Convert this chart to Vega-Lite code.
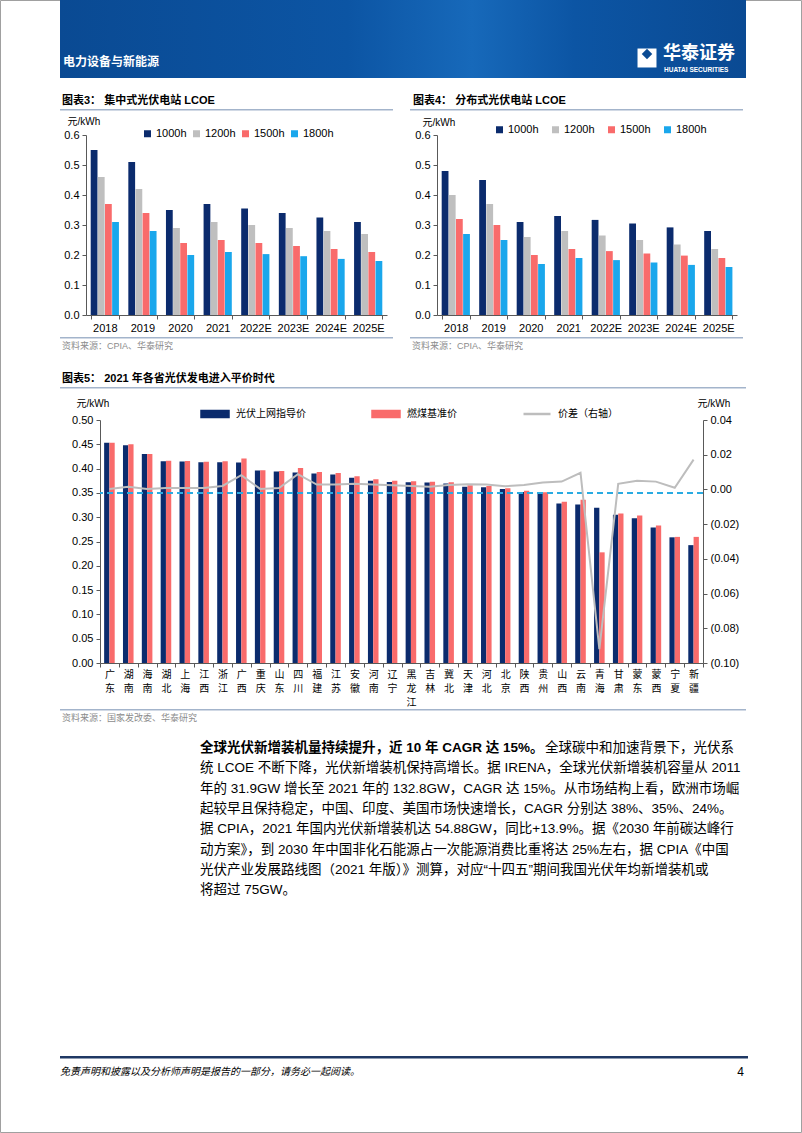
{
  "$schema": "https://vega.github.io/schema/vega-lite/v6.json",
  "padding": {"left": 0, "top": 0, "right": 0, "bottom": 0},
  "background": "#ffffff",
  "bounds": "flush",
  "spacing": 0,
  "resolve": {"scale": {"color": "independent"}, "legend": {"color": "independent"}},
  "config": {
    "font": "Liberation Sans, Noto Sans CJK SC",
    "view": {"stroke": null},
    "axis": {"domainColor": "#595959", "tickColor": "#595959", "labelColor": "#000000", "labelFont": "Liberation Sans, Noto Sans CJK SC", "titleFont": "Liberation Sans, Noto Sans CJK SC", "titleFontWeight": "normal", "titleColor": "#000000", "grid": false, "labelFontSize": 11, "titleFontSize": 10},
    "legend": {"labelFont": "Liberation Sans, Noto Sans CJK SC", "labelColor": "#000000", "labelFontSize": 11, "padding": 0},
    "title": {"font": "Liberation Sans, Noto Sans CJK SC", "color": "#000000"}
  },
  "vconcat": [
    {
      "width": 686, "height": 78,
      "data": {"values": [{}]},
      "layer": [
        {"mark": {"type": "rect", "filled": false, "stroke": "#A0A0A0", "strokeWidth": 1}, "encoding": {"x": {"value": -59.5}, "x2": {"value": 741.5}, "y": {"value": 0.5}, "y2": {"value": 1132.5}}},
        {"mark": {"type": "rect", "color": {"gradient": "linear", "x1": 0, "x2": 1, "y1": 0, "y2": 0, "stops": [{"offset": 0, "color": "#0A4A93"}, {"offset": 0.42, "color": "#0C55A4"}, {"offset": 0.6, "color": "#1769BA"}, {"offset": 0.75, "color": "#0C55A4"}, {"offset": 1, "color": "#0A4A93"}]}}},
        {"mark": {"type": "text", "text": "电力设备与新能源", "align": "left", "baseline": "middle", "color": "#ffffff", "fontSize": 12, "fontWeight": "bold", "font": "Noto Sans CJK SC"}, "encoding": {"x": {"value": 3}, "y": {"value": 62}}},
        {"mark": {"type": "point", "shape": "square", "filled": true, "color": "#ffffff", "size": 360, "opacity": 1}, "encoding": {"x": {"value": 587}, "y": {"value": 58}}},
        {"mark": {"type": "point", "shape": "diamond", "filled": true, "color": "#0A4A93", "size": 110, "opacity": 1}, "encoding": {"x": {"value": 587}, "y": {"value": 54}}},
        {"mark": {"type": "text", "text": "华泰证券", "align": "left", "baseline": "middle", "color": "#ffffff", "fontSize": 18, "fontWeight": "bold", "font": "Noto Sans CJK SC"}, "encoding": {"x": {"value": 603}, "y": {"value": 54}}},
        {"mark": {"type": "text", "text": "HUATAI SECURITIES", "align": "left", "baseline": "middle", "color": "#ffffff", "fontSize": 6.5, "fontWeight": "bold"}, "encoding": {"x": {"value": 604}, "y": {"value": 70}}}
      ]
    },
    {"width": 1, "height": 31, "data": {"values": []}, "mark": "point"},
    {
      "hconcat": [
        {"width": 333, "height": 1.5, "view": {"fill": "#A3B4CB", "stroke": null}, "data": {"values": []}, "mark": "point",
         "title": {"text": "图表3：  集中式光伏电站 LCOE", "orient": "top", "anchor": "start", "offset": 3, "fontSize": 11, "fontWeight": "bold", "dx": 2}},
        {"width": 17, "height": 1.5, "data": {"values": []}, "mark": "point"},
        {"width": 333, "height": 1.5, "view": {"fill": "#A3B4CB", "stroke": null}, "data": {"values": []}, "mark": "point",
         "title": {"text": "图表4：  分布式光伏电站 LCOE", "orient": "top", "anchor": "start", "offset": 3, "fontSize": 11, "fontWeight": "bold", "dx": 3}}
      ],
      "spacing": 0, "bounds": "flush"
    },
    {"width": 1, "height": 26, "data": {"values": []}, "mark": "point"},
    {
      "hconcat": [
        {"width": 26, "height": 180, "data": {"values": []}, "mark": "point"},
        {
          "width": 301, "height": 180,
          "data": {"values": [
            {"年份": "2018", "1000h": 0.55, "1200h": 0.46, "1500h": 0.37, "1800h": 0.31},
            {"年份": "2019", "1000h": 0.51, "1200h": 0.42, "1500h": 0.34, "1800h": 0.28},
            {"年份": "2020", "1000h": 0.35, "1200h": 0.29, "1500h": 0.24, "1800h": 0.20},
            {"年份": "2021", "1000h": 0.37, "1200h": 0.31, "1500h": 0.25, "1800h": 0.21},
            {"年份": "2022E", "1000h": 0.355, "1200h": 0.30, "1500h": 0.24, "1800h": 0.203},
            {"年份": "2023E", "1000h": 0.34, "1200h": 0.29, "1500h": 0.23, "1800h": 0.196},
            {"年份": "2024E", "1000h": 0.325, "1200h": 0.28, "1500h": 0.22, "1800h": 0.187},
            {"年份": "2025E", "1000h": 0.31, "1200h": 0.27, "1500h": 0.21, "1800h": 0.18}
          ]},
          "transform": [{"fold": ["1000h", "1200h", "1500h", "1800h"], "as": ["利用小时", "LCOE"]}],
          "mark": {"type": "bar"},
          "encoding": {
            "x": {"field": "年份", "type": "nominal", "sort": null, "scale": {"paddingInner": 0.25, "paddingOuter": 0.125},
                  "axis": {"title": null, "labelAngle": 0, "tickBand": "extent", "tickSize": 4, "labelPadding": 3}},
            "xOffset": {"field": "利用小时", "type": "nominal", "sort": ["1000h", "1200h", "1500h", "1800h"], "scale": {"paddingInner": 0.05}},
            "y": {"field": "LCOE", "type": "quantitative", "scale": {"domain": [0, 0.6]},
                  "axis": {"values": [0, 0.1, 0.2, 0.3, 0.4, 0.5, 0.6], "format": ".1f", "title": "元/kWh", "titleAngle": 0, "titleAlign": "left", "titleBaseline": "middle", "titleX": -19, "titleY": -14, "tickSize": 4, "labelPadding": 3}},
            "color": {"field": "利用小时", "type": "nominal",
                      "scale": {"domain": ["1000h", "1200h", "1500h", "1800h"], "range": ["#0B2B6D", "#BFBFBF", "#F96B6B", "#1AA7EC"]},
                      "legend": {"title": null, "orient": "none", "legendX": 56, "legendY": -7, "direction": "horizontal", "symbolType": "square", "symbolSize": 49, "symbolStrokeWidth": 0, "columnPadding": 4, "labelOffset": 3}}
          }
        },
        {"width": 50, "height": 180, "data": {"values": []}, "mark": "point"},
        {
          "width": 300, "height": 180,
          "data": {"values": [
            {"年份": "2018", "1000h": 0.48, "1200h": 0.40, "1500h": 0.32, "1800h": 0.27},
            {"年份": "2019", "1000h": 0.45, "1200h": 0.37, "1500h": 0.30, "1800h": 0.25},
            {"年份": "2020", "1000h": 0.31, "1200h": 0.26, "1500h": 0.20, "1800h": 0.17},
            {"年份": "2021", "1000h": 0.33, "1200h": 0.28, "1500h": 0.22, "1800h": 0.19},
            {"年份": "2022E", "1000h": 0.317, "1200h": 0.265, "1500h": 0.213, "1800h": 0.183},
            {"年份": "2023E", "1000h": 0.305, "1200h": 0.25, "1500h": 0.205, "1800h": 0.175},
            {"年份": "2024E", "1000h": 0.292, "1200h": 0.235, "1500h": 0.198, "1800h": 0.167},
            {"年份": "2025E", "1000h": 0.28, "1200h": 0.22, "1500h": 0.19, "1800h": 0.16}
          ]},
          "transform": [{"fold": ["1000h", "1200h", "1500h", "1800h"], "as": ["利用小时", "LCOE"]}],
          "mark": {"type": "bar"},
          "encoding": {
            "x": {"field": "年份", "type": "nominal", "sort": null, "scale": {"paddingInner": 0.25, "paddingOuter": 0.125},
                  "axis": {"title": null, "labelAngle": 0, "tickBand": "extent", "tickSize": 4, "labelPadding": 3}},
            "xOffset": {"field": "利用小时", "type": "nominal", "sort": ["1000h", "1200h", "1500h", "1800h"], "scale": {"paddingInner": 0.05}},
            "y": {"field": "LCOE", "type": "quantitative", "scale": {"domain": [0, 0.6]},
                  "axis": {"values": [0, 0.1, 0.2, 0.3, 0.4, 0.5, 0.6], "format": ".1f", "title": "元/kWh", "titleAngle": 0, "titleAlign": "left", "titleBaseline": "middle", "titleX": -15, "titleY": -13, "tickSize": 4, "labelPadding": 3}},
            "color": {"field": "利用小时", "type": "nominal",
                      "scale": {"domain": ["1000h", "1200h", "1500h", "1800h"], "range": ["#0B2B6D", "#BFBFBF", "#F96B6B", "#1AA7EC"]},
                      "legend": {"title": null, "orient": "none", "legendX": 57, "legendY": -11, "direction": "horizontal", "symbolType": "square", "symbolSize": 49, "symbolStrokeWidth": 0, "columnPadding": 11, "labelOffset": 3}}
          }
        }
      ],
      "spacing": 0, "bounds": "flush",
      "resolve": {"scale": {"color": "independent"}, "legend": {"color": "independent"}}
    },
    {"width": 1, "height": 202, "data": {"values": []}, "mark": "point"},
    {
      "hconcat": [
        {"width": 333, "height": 1.5, "view": {"fill": "#A3B4CB", "stroke": null}, "data": {"values": []}, "mark": "point",
         "title": {"text": "资料来源：CPIA、华泰研究", "orient": "bottom", "anchor": "start", "offset": 3, "fontSize": 9, "fontWeight": "normal", "color": "#8C8C8C", "dx": 2}},
        {"width": 17, "height": 1.5, "data": {"values": []}, "mark": "point"},
        {"width": 333, "height": 1.5, "view": {"fill": "#A3B4CB", "stroke": null}, "data": {"values": []}, "mark": "point",
         "title": {"text": "资料来源：CPIA、华泰研究", "orient": "bottom", "anchor": "start", "offset": 3, "fontSize": 9, "fontWeight": "normal", "color": "#8C8C8C", "dx": 2}}
      ],
      "spacing": 0, "bounds": "flush"
    },
    {"width": 1, "height": 50, "data": {"values": []}, "mark": "point"},
    {"width": 686, "height": 1.5, "view": {"fill": "#A3B4CB", "stroke": null}, "data": {"values": []}, "mark": "point",
     "title": {"text": "图表5：  2021 年各省光伏发电进入平价时代", "orient": "top", "anchor": "start", "offset": 3, "fontSize": 11, "fontWeight": "bold", "dx": 2}},
    {"width": 1, "height": 30.2, "data": {"values": []}, "mark": "point"},
    {
      "hconcat": [
        {"width": 40, "height": 243, "data": {"values": []}, "mark": "point"},
        {
          "width": 603, "height": 243,
          "data": {"values": [
            {"省份": "广东", "光伏上网指导价": 0.453, "燃煤基准价": 0.453, "价差（右轴）": 0.0003},
            {"省份": "湖南", "光伏上网指导价": 0.448, "燃煤基准价": 0.450, "价差（右轴）": 0.0015},
            {"省份": "海南", "光伏上网指导价": 0.4298, "燃煤基准价": 0.4298, "价差（右轴）": 0.0002},
            {"省份": "湖北", "光伏上网指导价": 0.4151, "燃煤基准价": 0.4161, "价差（右轴）": 0.0008},
            {"省份": "上海", "光伏上网指导价": 0.4145, "燃煤基准价": 0.4155, "价差（右轴）": 0.0008},
            {"省份": "江西", "光伏上网指导价": 0.4133, "燃煤基准价": 0.4143, "价差（右轴）": 0.0008},
            {"省份": "浙江", "光伏上网指导价": 0.4133, "燃煤基准价": 0.4153, "价差（右轴）": 0.002},
            {"省份": "广西", "光伏上网指导价": 0.4123, "燃煤基准价": 0.4207, "价差（右轴）": 0.0082},
            {"省份": "重庆", "光伏上网指导价": 0.396, "燃煤基准价": 0.3964, "价差（右轴）": 0.0003},
            {"省份": "山东", "光伏上网指导价": 0.394, "燃煤基准价": 0.3949, "价差（右轴）": 0.0008},
            {"省份": "四川", "光伏上网指导价": 0.392, "燃煤基准价": 0.4012, "价差（右轴）": 0.0088},
            {"省份": "福建", "光伏上网指导价": 0.390, "燃煤基准价": 0.3932, "价差（右轴）": 0.0028},
            {"省份": "江苏", "光伏上网指导价": 0.388, "燃煤基准价": 0.391, "价差（右轴）": 0.0028},
            {"省份": "安徽", "光伏上网指导价": 0.381, "燃煤基准价": 0.3844, "价差（右轴）": 0.0032},
            {"省份": "河南", "光伏上网指导价": 0.375, "燃煤基准价": 0.3779, "价差（右轴）": 0.0028},
            {"省份": "辽宁", "光伏上网指导价": 0.3725, "燃煤基准价": 0.3749, "价差（右轴）": 0.0024},
            {"省份": "黑龙江", "光伏上网指导价": 0.372, "燃煤基准价": 0.374, "价差（右轴）": 0.002},
            {"省份": "吉林", "光伏上网指导价": 0.3715, "燃煤基准价": 0.3731, "价差（右轴）": 0.0016},
            {"省份": "冀北", "光伏上网指导价": 0.3695, "燃煤基准价": 0.372, "价差（右轴）": 0.0025},
            {"省份": "天津", "光伏上网指导价": 0.3625, "燃煤基准价": 0.3655, "价差（右轴）": 0.003},
            {"省份": "河北", "光伏上网指导价": 0.3615, "燃煤基准价": 0.3644, "价差（右轴）": 0.0029},
            {"省份": "北京", "光伏上网指导价": 0.358, "燃煤基准价": 0.3598, "价差（右轴）": 0.0018},
            {"省份": "陕西", "光伏上网指导价": 0.352, "燃煤基准价": 0.3545, "价差（右轴）": 0.0025},
            {"省份": "贵州", "光伏上网指导价": 0.3475, "燃煤基准价": 0.3515, "价差（右轴）": 0.004},
            {"省份": "山西", "光伏上网指导价": 0.328, "燃煤基准价": 0.332, "价差（右轴）": 0.0045},
            {"省份": "云南", "光伏上网指导价": 0.326, "燃煤基准价": 0.3358, "价差（右轴）": 0.0096},
            {"省份": "青海", "光伏上网指导价": 0.3197, "燃煤基准价": 0.2277, "价差（右轴）": -0.092},
            {"省份": "甘肃", "光伏上网指导价": 0.305, "燃煤基准价": 0.3078, "价差（右轴）": 0.0032},
            {"省份": "蒙东", "光伏上网指导价": 0.298, "燃煤基准价": 0.3035, "价差（右轴）": 0.005},
            {"省份": "蒙西", "光伏上网指导价": 0.2786, "燃煤基准价": 0.2829, "价差（右轴）": 0.0045},
            {"省份": "宁夏", "光伏上网指导价": 0.2586, "燃煤基准价": 0.2595, "价差（右轴）": 0.001},
            {"省份": "新疆", "光伏上网指导价": 0.2425, "燃煤基准价": 0.2595, "价差（右轴）": 0.0172}
          ]},
          "layer": [
            {
              "mark": {"type": "bar", "width": {"band": 0.28}, "xOffset": -2.65},
              "encoding": {
                "x": {"field": "省份", "type": "nominal", "sort": null, "scale": {"type": "band", "paddingInner": 0, "paddingOuter": 0},
                      "axis": {"title": null, "labelAngle": 0, "labelExpr": "split(datum.label, '')", "labelFont": "Noto Sans CJK SC", "labelFontSize": 10, "labelLineHeight": 14, "labelBaseline": "top", "tickBand": "extent", "tickSize": 4, "labelPadding": 2}},
                "y": {"field": "光伏上网指导价", "type": "quantitative", "scale": {"domain": [0, 0.5]},
                      "axis": {"orient": "left", "values": [0, 0.05, 0.1, 0.15, 0.2, 0.25, 0.3, 0.35, 0.4, 0.45, 0.5], "format": ".2f", "title": "元/kWh", "titleAngle": 0, "titleAlign": "left", "titleBaseline": "middle", "titleX": -24, "titleY": -17, "tickSize": 4, "labelPadding": 3}},
                "color": {"datum": "光伏上网指导价",
                          "scale": {"domain": ["光伏上网指导价", "燃煤基准价", "价差（右轴）"], "range": ["#0B2B6D", "#F96B6B", "#BDBDBD"]},
                          "legend": {"title": null, "orient": "none", "legendX": 140, "legendY": -21, "direction": "horizontal", "gridAlign": "none",
                                     "symbolType": "M-1,-0.22H1V0.22H-1Z", "symbolSize": 729, "labelFont": "Noto Sans CJK SC", "labelFontSize": 10, "labelOffset": 6, "columnPadding": 61,
                                     "encode": {"symbols": {"update": {
                                       "shape": {"signal": "datum.label === '价差（右轴）' ? 'M-1,0H1' : 'M-1,-0.22H1V0.22H-1Z'"},
                                       "fill": {"signal": "datum.label === '光伏上网指导价' ? '#0B2B6D' : (datum.label === '燃煤基准价' ? '#F96B6B' : 'transparent')"},
                                       "stroke": {"signal": "datum.label === '价差（右轴）' ? '#BDBDBD' : 'transparent'"},
                                       "strokeWidth": {"value": 2.5},
                                       "opacity": {"value": 1}
                                     }}}}}
              }
            },
            {
              "mark": {"type": "bar", "width": {"band": 0.28}, "xOffset": 2.65},
              "encoding": {
                "x": {"field": "省份", "type": "nominal", "sort": null, "scale": {"type": "band", "paddingInner": 0, "paddingOuter": 0}},
                "y": {"field": "燃煤基准价", "type": "quantitative", "scale": {"domain": [0, 0.5]}, "axis": null},
                "color": {"datum": "燃煤基准价", "scale": {"domain": ["光伏上网指导价", "燃煤基准价", "价差（右轴）"], "range": ["#0B2B6D", "#F96B6B", "#BDBDBD"]}}
              }
            },
            {"mark": {"type": "rule", "color": "#29ABE2", "strokeWidth": 2, "strokeDash": [6, 4]},
             "encoding": {"y": {"datum": 0.35, "type": "quantitative", "scale": {"domain": [0, 0.5]}, "axis": null}}},
            {
              "mark": {"type": "line", "strokeWidth": 2},
              "encoding": {
                "x": {"field": "省份", "type": "nominal", "sort": null, "scale": {"type": "band", "paddingInner": 0, "paddingOuter": 0}},
                "y": {"field": "价差（右轴）", "type": "quantitative", "scale": {"domain": [-0.1, 0.04]},
                      "axis": {"orient": "right", "values": [-0.1, -0.08, -0.06, -0.04, -0.02, 0, 0.02, 0.04], "labelExpr": "datum.value < 0 ? '(' + format(-datum.value, '.2f') + ')' : format(datum.value, '.2f')", "title": "元/kWh", "titleAngle": 0, "titleAlign": "left", "titleBaseline": "middle", "titleX": -6, "titleY": -17, "tickSize": 4, "labelPadding": 3}},
                "color": {"datum": "价差（右轴）", "scale": {"domain": ["光伏上网指导价", "燃煤基准价", "价差（右轴）"], "range": ["#0B2B6D", "#F96B6B", "#BDBDBD"]}}
              }
            }
          ],
          "resolve": {"scale": {"y": "independent"}}
        }
      ],
      "spacing": 0, "bounds": "flush"
    },
    {"width": 1, "height": 289, "data": {"values": []}, "mark": "point"},
    {"width": 686, "height": 1.5, "view": {"fill": "#A3B4CB", "stroke": null}, "data": {"values": []}, "mark": "point",
     "title": {"text": "资料来源：国家发改委、华泰研究", "orient": "bottom", "anchor": "start", "offset": 3, "fontSize": 9, "fontWeight": "normal", "color": "#8C8C8C", "dx": 2}},
    {"width": 1, "height": 26.15, "data": {"values": []}, "mark": "point"},
    {
      "hconcat": [
        {"width": 140, "height": 162.4, "data": {"values": []}, "mark": "point"},
        {
          "width": 546, "height": 162.4,
          "data": {"values": [
            {"line": 1, "style": "bold", "text": "全球光伏新增装机量持续提升，近 10 年 CAGR 达 15%。"},
            {"line": 1, "style": "after", "text": "全球碳中和加速背景下，光伏系"},
            {"line": 2, "style": "plain", "text": "统 LCOE 不断下降，光伏新增装机保持高增长。据 IRENA，全球光伏新增装机容量从 2011"},
            {"line": 3, "style": "plain", "text": "年的 31.9GW 增长至 2021 年的 132.8GW，CAGR 达 15%。从市场结构上看，欧洲市场崛"},
            {"line": 4, "style": "plain", "text": "起较早且保持稳定，中国、印度、美国市场快速增长，CAGR 分别达 38%、35%、24%。"},
            {"line": 5, "style": "plain", "text": "据 CPIA，2021 年国内光伏新增装机达 54.88GW，同比+13.9%。据《2030 年前碳达峰行"},
            {"line": 6, "style": "plain", "text": "动方案》，到 2030 年中国非化石能源占一次能源消费比重将达 25%左右，据 CPIA《中国"},
            {"line": 7, "style": "plain", "text": "光伏产业发展路线图（2021 年版）》测算，对应“十四五”期间我国光伏年均新增装机或"},
            {"line": 8, "style": "plain", "text": "将超过 75GW。"}
          ]},
          "layer": [
            {"transform": [{"filter": "datum.style === 'bold'"}],
             "mark": {"type": "text", "align": "left", "baseline": "middle", "fontSize": 13.5, "fontWeight": "bold", "color": "#000000"},
             "encoding": {"y": {"field": "line", "type": "ordinal", "axis": null, "scale": {"domain": [1, 2, 3, 4, 5, 6, 7, 8], "paddingInner": 0, "paddingOuter": 0}}, "x": {"value": 0}, "text": {"field": "text"}}},
            {"transform": [{"filter": "datum.style === 'after'"}],
             "mark": {"type": "text", "align": "left", "baseline": "middle", "fontSize": 13.5, "color": "#000000", "dx": 345},
             "encoding": {"y": {"field": "line", "type": "ordinal", "axis": null, "scale": {"domain": [1, 2, 3, 4, 5, 6, 7, 8], "paddingInner": 0, "paddingOuter": 0}}, "x": {"value": 0}, "text": {"field": "text"}}},
            {"transform": [{"filter": "datum.style === 'plain'"}],
             "mark": {"type": "text", "align": "left", "baseline": "middle", "fontSize": 13.5, "color": "#000000"},
             "encoding": {"y": {"field": "line", "type": "ordinal", "axis": null, "scale": {"domain": [1, 2, 3, 4, 5, 6, 7, 8], "paddingInner": 0, "paddingOuter": 0}}, "x": {"value": 0}, "text": {"field": "text"}}}
          ]
        }
      ],
      "spacing": 0, "bounds": "flush"
    },
    {"width": 1, "height": 317.15, "data": {"values": []}, "mark": "point"},
    {
      "width": 688, "height": 2.5, "view": {"fill": "#1F3864", "stroke": null},
      "data": {"values": [{}]},
      "layer": [
        {"mark": {"type": "text", "text": "免责声明和披露以及分析师声明是报告的一部分，请务必一起阅读。", "align": "left", "baseline": "middle", "fontSize": 10, "fontStyle": "italic", "color": "#000000"},
         "encoding": {"x": {"value": 0}, "y": {"value": 16}}},
        {"mark": {"type": "text", "text": "4", "align": "right", "baseline": "middle", "fontSize": 12, "color": "#000000"},
         "encoding": {"x": {"value": 684}, "y": {"value": 16}}}
      ]
    }
  ]
}
